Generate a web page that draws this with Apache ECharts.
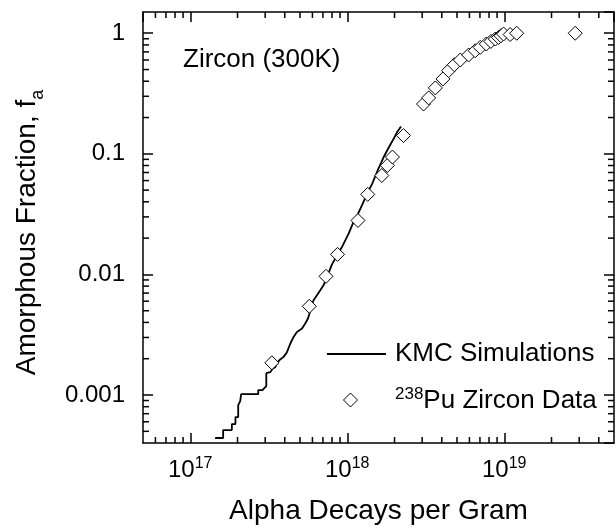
<!DOCTYPE html>
<html>
<head>
<meta charset="utf-8">
<script src="https://cdn.jsdelivr.net/npm/echarts@6/dist/echarts.min.js"></script>
<style>
  html, body { margin: 0; padding: 0; background: #fff; }
  #chart { width: 616px; height: 531px; }
</style>
</head>
<body>
<div id="chart"></div>
<script>
// Axis extents
const X_MIN = 5e16, X_MAX = 5e19;
const Y_MIN = 4e-4, Y_MAX = 1.5;

// Tick label texts (by decade exponent)
const xTickExponents = [17, 18, 19];
const yTickExponents = [-3, -2, -1, 0];
const yTickLabels = ['0.001', '0.01', '0.1', '1'];

// 238Pu-doped zircon measurements
const puDose = [
  3.31e17, 5.73e17, 7.32e17, 8.67e17, 1.17e18, 1.35e18, 1.66e18, 1.80e18,
  1.94e18, 2.28e18, 3.06e18, 3.30e18, 3.64e18, 4.07e18, 4.42e18, 4.81e18,
  5.25e18, 5.93e18, 6.53e18, 7.03e18, 7.68e18, 8.22e18, 8.77e18, 9.20e18,
  9.53e18, 9.90e18, 1.09e19, 1.20e19, 2.83e19
];
const puFraction = [
  0.00185, 0.00544, 0.00964, 0.01466, 0.0280, 0.0461, 0.0661, 0.0800,
  0.0941, 0.1417, 0.259, 0.291, 0.352, 0.418, 0.489, 0.548,
  0.600, 0.660, 0.716, 0.763, 0.814, 0.855, 0.895, 0.923,
  0.953, 0.985, 0.975, 1.0, 1.0
];

// Kinetic Monte Carlo simulation curve
const kmcDose = [
  1.44e17, 1.62e17, 1.62e17, 1.84e17, 1.84e17, 1.94e17, 1.94e17, 2.02e17,
  2.02e17, 2.08e17, 2.11e17, 2.71e17, 2.71e17, 2.88e17, 2.92e17, 3.05e17,
  3.05e17, 3.23e17, 3.36e17, 3.48e17, 3.57e17, 3.74e17, 3.93e17, 4.13e17,
  4.23e17, 4.34e17, 4.55e17, 4.78e17, 5.15e17, 5.40e17, 5.62e17, 5.75e17,
  5.87e17, 6.10e17, 6.41e17, 6.73e17, 7.06e17, 7.42e17, 7.99e17, 8.68e17,
  9.25e17, 1.02e18, 1.10e18, 1.15e18, 1.24e18, 1.35e18, 1.44e18, 1.58e18,
  1.70e18, 1.78e18, 1.93e18, 2.07e18, 2.20e18
];
const kmcFraction = [
  4.40e-4, 4.40e-4, 5.12e-4, 5.12e-4, 5.74e-4, 5.74e-4, 6.56e-4, 6.56e-4,
  8.25e-4, 8.90e-4, 1.017e-3, 1.017e-3, 1.098e-3, 1.098e-3, 1.14e-3, 1.185e-3,
  1.518e-3, 1.547e-3, 1.661e-3, 1.702e-3, 1.847e-3, 1.971e-3, 2.071e-3, 2.265e-3,
  2.353e-3, 2.674e-3, 3.032e-3, 3.336e-3, 3.559e-3, 3.915e-3, 4.306e-3, 4.736e-3,
  5.371e-3, 6.104e-3, 6.714e-3, 7.385e-3, 8.123e-3, 9.463e-3, 0.01212, 0.01467,
  0.01686, 0.02176, 0.02751, 0.03027, 0.03733, 0.04782, 0.05644, 0.07554,
  0.09319, 0.1045, 0.1264, 0.1501, 0.1683
];

// Minor (2..9 per decade) tick positions for the log axes
function minorTicks(lo, hi) {
  const out = [];
  for (let e = Math.floor(Math.log10(lo)); e <= Math.ceil(Math.log10(hi)); e++) {
    for (let m = 2; m <= 9; m++) {
      const v = m * Math.pow(10, e);
      if (v > lo && v < hi) out.push(v);
    }
  }
  return out;
}
const xMinor = minorTicks(X_MIN, X_MAX);
const yMinor = minorTicks(Y_MIN, Y_MAX);

const FONT = "'Liberation Sans', Arial, Helvetica, sans-serif";
const INK = '#000';
const MAJOR_LEN = 10, MINOR_LEN = 6, AXIS_W = 1.5;

// Legend swatch: a 14px diamond inside the 59x14 legend slot
const DIAMOND_ICON = 'path://M0,0 M59,14 M23.5,0 L30.5,7 L23.5,14 L16.5,7 Z';

function isDecade(v) {
  const e = Math.log10(v);
  return Math.abs(e - Math.round(e)) < 1e-6;
}

const chart = echarts.init(document.getElementById('chart'), null, { renderer: 'canvas' });

const commonAxisLine = { show: true, lineStyle: { color: INK, width: AXIS_W } };
const commonTick = { show: true, inside: true, length: MAJOR_LEN, lineStyle: { color: INK, width: AXIS_W } };

chart.setOption({
  animation: false,
  backgroundColor: '#fff',
  textStyle: { fontFamily: FONT, color: INK },
  grid: { left: 143, right: 2, top: 12, bottom: 88, containLabel: false },
  xAxis: [
    {
      type: 'log', logBase: 10, min: X_MIN, max: X_MAX, position: 'bottom',
      axisLine: commonAxisLine, axisTick: commonTick, splitLine: { show: false },
      axisLabel: {
        margin: 13, showMinLabel: false, showMaxLabel: false,
        formatter: v => {
          if (!isDecade(v)) return '';
          const e = Math.round(Math.log10(v));
          return xTickExponents.indexOf(e) >= 0 ? '{b|10}{s|' + e + '}' : '';
        },
        rich: {
          b: { fontSize: 24, fontFamily: FONT, color: INK, verticalAlign: 'bottom' },
          s: { fontSize: 16, fontFamily: FONT, color: INK, verticalAlign: 'bottom', padding: [0, 0, 10, 0] }
        }
      },
      name: 'Alpha Decays per Gram', nameLocation: 'middle', nameGap: 54,
      nameTextStyle: { fontSize: 28, fontFamily: FONT, color: INK, verticalAlign: 'top' }
    },
    {
      type: 'log', logBase: 10, min: X_MIN, max: X_MAX, position: 'top',
      axisLine: commonAxisLine, axisTick: commonTick, splitLine: { show: false },
      axisLabel: { show: false }
    }
  ],
  yAxis: [
    {
      type: 'log', logBase: 10, min: Y_MIN, max: Y_MAX, position: 'left',
      axisLine: commonAxisLine, axisTick: commonTick, splitLine: { show: false },
      axisLabel: {
        margin: 18, fontSize: 24, fontFamily: FONT, color: INK,
        showMinLabel: false, showMaxLabel: false,
        formatter: v => {
          if (!isDecade(v)) return '';
          const i = yTickExponents.indexOf(Math.round(Math.log10(v)));
          return i >= 0 ? yTickLabels[i] : '';
        }
      },
      name: '{n|Amorphous Fraction, f}{sub|a}', nameLocation: 'middle', nameRotate: 90, nameGap: 102,
      nameTextStyle: {
        padding: [0, 10, 0, 0],
        rich: {
          n: { fontSize: 28, fontFamily: FONT, color: INK, verticalAlign: 'bottom' },
          sub: { fontSize: 18, fontFamily: FONT, color: INK, verticalAlign: 'bottom', padding: [0, 0, -6, 0] }
        }
      }
    },
    {
      type: 'log', logBase: 10, min: Y_MIN, max: Y_MAX, position: 'right',
      axisLine: commonAxisLine, axisTick: commonTick, splitLine: { show: false },
      axisLabel: { show: false }
    }
  ],
  legend: {
    orient: 'vertical', left: 321, top: 336, itemGap: 19,
    itemWidth: 59, itemHeight: 14,
    data: [
      { name: 'KMC Simulations', itemStyle: { opacity: 0 } },
      { name: '238Pu Zircon Data', icon: DIAMOND_ICON,
        itemStyle: { color: '#fff', borderColor: INK, borderWidth: 1 } }
    ],
    formatter: name => name === '238Pu Zircon Data'
      ? '{sup|238}{t|Pu Zircon Data}' : '{t|' + name + '}',
    textStyle: {
      padding: [0, 0, 0, 4],
      rich: {
        t: { fontSize: 26, fontFamily: FONT, color: INK, verticalAlign: 'bottom' },
        sup: { fontSize: 17, fontFamily: FONT, color: INK, verticalAlign: 'bottom', padding: [0, 0, 11, 0] }
      }
    }
  },
  graphic: [
    {
      type: 'text', left: 183, top: 47, silent: true,
      style: { text: 'Zircon (300K)', font: '26px ' + FONT, fill: INK }
    }
  ],
  series: [
    {
      name: 'KMC Simulations', type: 'line', xAxisIndex: 0, yAxisIndex: 0,
      data: kmcDose.map((x, i) => [x, kmcFraction[i]]),
      showSymbol: false, symbol: 'none', smooth: false,
      lineStyle: { color: INK, width: 1.8 }, itemStyle: { color: INK },
      z: 2
    },
    {
      name: '238Pu Zircon Data', type: 'scatter', xAxisIndex: 0, yAxisIndex: 0,
      data: puDose.map((x, i) => [x, puFraction[i]]),
      symbol: 'diamond', symbolSize: 14,
      itemStyle: { color: '#fff', borderColor: INK, borderWidth: 1, opacity: 1 },
      z: 3
    },
    {
      // minor ticks on bottom and top edges
      type: 'custom', xAxisIndex: 0, yAxisIndex: 0, silent: true, z: 4,
      data: xMinor.map(v => [v, Y_MIN]),
      renderItem: (params, api) => {
        const cs = params.coordSys;
        const x = api.coord([api.value(0), Y_MIN])[0];
        const st = { stroke: INK, lineWidth: AXIS_W };
        return {
          type: 'group', children: [
            { type: 'line', shape: { x1: x, y1: cs.y + cs.height, x2: x, y2: cs.y + cs.height - MINOR_LEN }, style: st },
            { type: 'line', shape: { x1: x, y1: cs.y, x2: x, y2: cs.y + MINOR_LEN }, style: st }
          ]
        };
      }
    },
    {
      // minor ticks on left and right edges
      type: 'custom', xAxisIndex: 0, yAxisIndex: 0, silent: true, z: 4,
      data: yMinor.map(v => [X_MIN, v]),
      renderItem: (params, api) => {
        const cs = params.coordSys;
        const y = api.coord([X_MIN, api.value(1)])[1];
        const st = { stroke: INK, lineWidth: AXIS_W };
        return {
          type: 'group', children: [
            { type: 'line', shape: { x1: cs.x, y1: y, x2: cs.x + MINOR_LEN, y2: y }, style: st },
            { type: 'line', shape: { x1: cs.x + cs.width, y1: y, x2: cs.x + cs.width - MINOR_LEN, y2: y }, style: st }
          ]
        };
      }
    }
  ]
});
</script>
</body>
</html>
